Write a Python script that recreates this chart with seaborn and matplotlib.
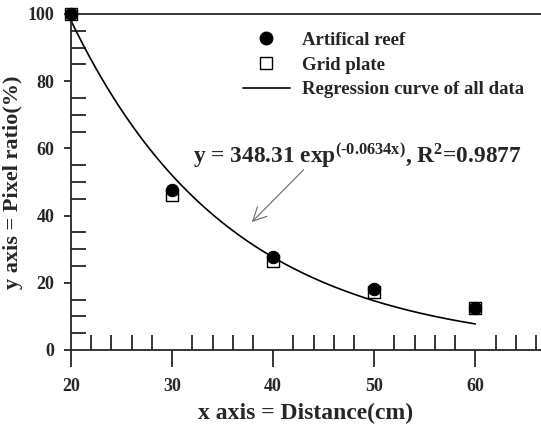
import numpy as np
import pandas as pd
import matplotlib
matplotlib.use("Agg")
import matplotlib.pyplot as plt
from matplotlib.lines import Line2D
from matplotlib.ticker import MultipleLocator
import seaborn as sns

# Values
distance = [20, 30, 40, 50, 60]
reef = [100.0, 47.5, 27.6, 18.2, 12.6]
grid = [100.0, 46.1, 26.6, 17.4, 12.4]

# Regression curve parameters printed on the chart
fit_a = 348.31
fit_b = -0.0634
fit_r2 = 0.9877

sns.set_style("ticks")
plt.rcParams["font.family"] = ["Liberation Serif", "DejaVu Serif"]
plt.rcParams["font.weight"] = "bold"
plt.rcParams["mathtext.fontset"] = "custom"
plt.rcParams["mathtext.rm"] = "Liberation Serif:bold"
plt.rcParams["mathtext.it"] = "Liberation Serif:bold"
plt.rcParams["mathtext.bf"] = "Liberation Serif:bold"
plt.rcParams["mathtext.default"] = "rm"

points = pd.DataFrame({"x": distance + distance,
                       "y": reef + grid,
                       "kind": ["Artifical reef"] * 5 + ["Grid plate"] * 5})

xs = np.linspace(distance[0], distance[-1], 200)
curve = pd.DataFrame({"x": xs, "y": fit_a * np.exp(fit_b * xs)})

fig = plt.figure(figsize=(5.41, 4.25), dpi=100)
ax = fig.add_axes([71 / 541, 1 - 350 / 425, 1 - 71 / 541, 336 / 425])

sns.lineplot(data=curve, x="x", y="y", color="black", lw=1.2, ax=ax, zorder=2)
sns.scatterplot(data=points[points.kind == "Grid plate"], x="x", y="y", marker="s",
                s=70, facecolor="white", edgecolor="black", linewidth=1.0,
                ax=ax, zorder=3, clip_on=False, legend=False)
sns.scatterplot(data=points[points.kind == "Artifical reef"], x="x", y="y", marker="o",
                s=80, color="black", edgecolor="black", ax=ax, zorder=4,
                clip_on=False, legend=False)

ax.set_xlim(20, 66.5)
ax.set_ylim(0, 100)
ax.xaxis.set_minor_locator(MultipleLocator(2))
ax.yaxis.set_major_locator(MultipleLocator(20))
ax.yaxis.set_minor_locator(MultipleLocator(5))
ax.set_xticks([20, 30, 40, 50, 60])
ax.tick_params(axis="x", which="major", direction="out", length=12, width=1.3,
               labelsize=13, pad=8)
ax.tick_params(axis="x", which="minor", direction="in", length=11, width=1.3)
ax.tick_params(axis="y", which="major", direction="out", length=5, width=1.3,
               labelsize=13, pad=7)
ax.tick_params(axis="y", which="minor", direction="in", length=11, width=1.3)
for lab in ax.get_xticklabels() + ax.get_yticklabels():
    lab.set_fontweight("bold")

ax.spines["right"].set_visible(False)
for s in ["left", "bottom", "top"]:
    ax.spines[s].set_linewidth(1.3)

ax.set_xlabel("x axis = Distance(cm)", fontsize=17, fontweight="bold", labelpad=6)
ax.set_ylabel("y axis = Pixel ratio(%)", fontsize=16, fontweight="bold", labelpad=3)

# plain hyphen in the exponent, as in the original
exp_txt = ("%.4fx" % fit_b).replace("-", "\u2010")
ax.text(32.1, 57.8, r"y = %.2f exp$^{(%s)}$, R$^{2}$=%.4f" % (fit_a, exp_txt, fit_r2),
        fontsize=16.8, fontweight="bold", va="center", ha="left")
ax.annotate("", xy=(37.7, 37.5), xytext=(43.2, 54.2),
            arrowprops=dict(arrowstyle="->", color="dimgray", lw=0.8,
                            mutation_scale=24))

handles = [Line2D([], [], marker="o", ls="none", color="black", markersize=9),
           Line2D([], [], marker="s", ls="none", markerfacecolor="white",
                  markeredgecolor="black", markersize=8),
           Line2D([], [], color="black", lw=1.2)]
ax.legend(handles, ["Artifical reef", "Grid plate", "Regression curve of all data"],
          loc="upper left", bbox_to_anchor=(226 / 541, 1 - 15 / 425),
          bbox_transform=fig.transFigure, frameon=False,
          handlelength=2.5, handletextpad=0.65, labelspacing=0.4,
          prop={"weight": "bold", "size": 13.5})

fig.savefig("out.png", dpi=100)
